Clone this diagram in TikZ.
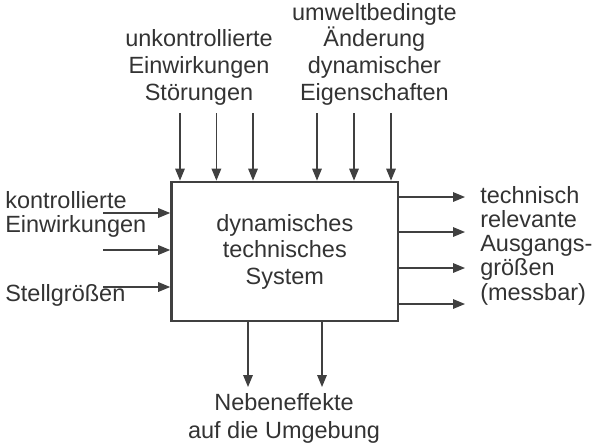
\documentclass[tikz,border=0pt]{standalone}
\usepackage{fontspec}
\setmainfont{Liberation Sans}
\usetikzlibrary{arrows.meta}

\definecolor{linegray}{HTML}{404040}
\definecolor{textgray}{HTML}{333333}

\tikzset{
    signal/.style={-{Triangle[length=3mm,width=2.4mm]}, line width=0.9pt, linegray},
    txt/.style={inner sep=0pt, text=textgray}
}

\begin{document}
\begin{tikzpicture}[font=\fontsize{16.7}{18.9}\selectfont]
    \useasboundingbox (0,0) rectangle (15.05,11.1);

    % The system block
    \node[draw=linegray, line width=2pt, minimum width=5.66cm, minimum height=3.475cm,
          align=center, text=textgray] (sys) at (7.12, 4.8125) {dynamisches\\technisches\\System};

    % Disturbances and environment from above
    \foreach \x [count=\i] in {4.5, 5.41, 6.325, 7.925, 8.85, 9.775} {
        \coordinate (top\i) at (\x, 8.275);
        \draw[signal] (top\i) -- (top\i |- sys.north);
    }

    % Controlled inputs from the left
    \foreach \y [count=\i] in {5.775, 4.85, 3.925} {
        \coordinate (in\i) at (2.575, \y);
        \draw[signal] (in\i) -- (in\i -| sys.west);
    }

    % Outputs to the right
    \foreach \y [count=\i] in {6.175, 5.3, 4.4, 3.5} {
        \coordinate (out\i) at (11.625, \y);
        \draw[signal] (out\i -| sys.east) -- (out\i);
    }

    % Side effects downwards
    \foreach \x [count=\i] in {6.2, 8.05} {
        \coordinate (fx\i) at (\x, 1.425);
        \draw[signal] (fx\i |- sys.south) -- (fx\i);
    }

    % Labels (base = last line)
    \node[txt, anchor=base, align=center] (dist) at (4.975, 8.6) {unkontrollierte\\Einwirkungen\\Störungen};
    \node[txt, anchor=base, align=center] (env) at (9.36, 8.6) {umweltbedingte\\Änderung\\dynamischer\\Eigenschaften};
    \node[txt, anchor=base west, align=left, font=\fontsize{16.7}{16.9}\selectfont] (ctrl) at (0.125, 5.3) {kontrollierte\\Einwirkungen};
    \node[txt, anchor=base west] (act) at (0.125, 3.575) {Stellgrößen};
    \node[txt, anchor=base west, align=left, font=\fontsize{16.7}{17.1}\selectfont] (meas) at (12.0, 3.6) {technisch\\relevante\\Ausgangs-\\größen\\(messbar)};
    \node[txt, anchor=base, align=center, font=\fontsize{16.7}{19.9}\selectfont] (side) at (7.1, 0.15) {Nebeneffekte\\auf die Umgebung};

\end{tikzpicture}
\end{document}
